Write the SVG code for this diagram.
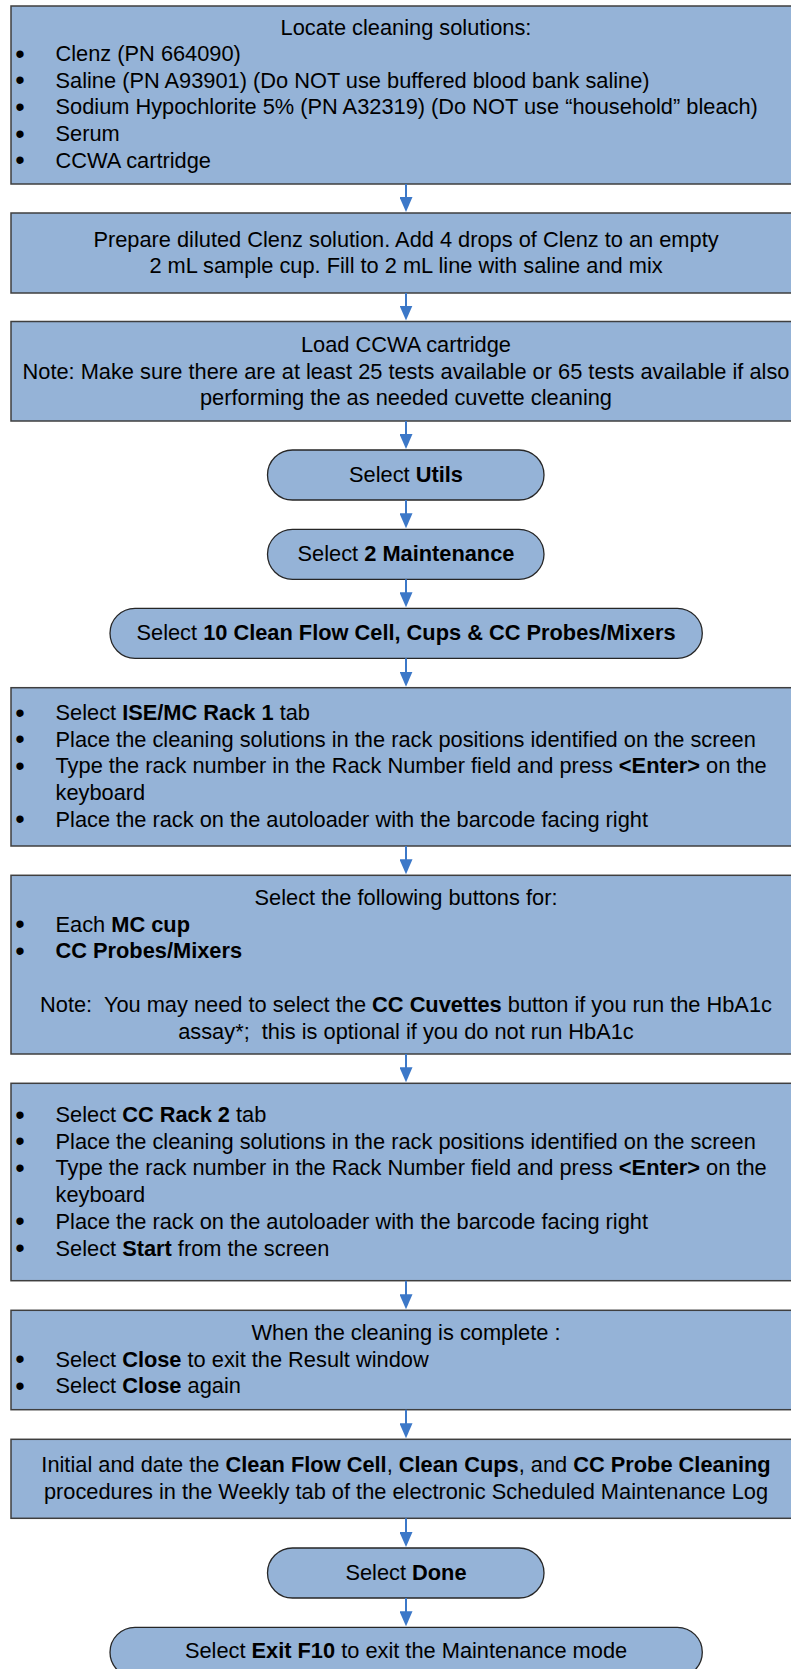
<svg xmlns="http://www.w3.org/2000/svg" width="791" height="1669" viewBox="0 0 791 1669">
<style>
  .box { fill: #95B3D7; stroke: #3F3F3F; stroke-width: 1.5; }
  .pill { fill: #95B3D7; stroke: #262626; stroke-width: 1.3; }
  text { font-family: "Liberation Sans", Arial, sans-serif; font-size: 21.8px; fill: #000; }
  .c { text-anchor: middle; }
  .b { font-weight: bold; }
  .bu { font-size: 27px; }
  .conn { stroke: #3C78C8; stroke-width: 2; fill: none; }
</style>
<defs>
  <marker id="ah" viewBox="0 0 15 13" refX="1" refY="6.5" markerWidth="15" markerHeight="13" markerUnits="userSpaceOnUse" orient="auto">
    <path d="M0,0 L15,6.5 L0,13 z" fill="#3C78C8"/>
  </marker>
</defs>
<rect width="791" height="1669" fill="#FFFFFF"/>

<g id="n1">
  <rect class="box" x="11" y="6" width="800" height="178"/>
  <text class="c" x="406" y="34.5">Locate cleaning solutions:</text>
  <text class="bu" x="15.3" y="62.5">•</text><text x="55.5" y="61">Clenz (PN 664090)</text>
  <text class="bu" x="15.3" y="89.2">•</text><text x="55.5" y="87.7">Saline (PN A93901) (Do NOT use buffered blood bank saline)</text>
  <text class="bu" x="15.3" y="115.9">•</text><text x="55.5" y="114.4">Sodium Hypochlorite 5% (PN A32319) (Do NOT use “household” bleach)</text>
  <text class="bu" x="15.3" y="142.6">•</text><text x="55.5" y="141.1">Serum</text>
  <text class="bu" x="15.3" y="169.3">•</text><text x="55.5" y="167.8">CCWA cartridge</text>
</g>

<g id="n2">
  <rect class="box" x="11" y="213" width="800" height="80"/>
  <text class="c" x="406" y="246.7">Prepare diluted Clenz solution. Add 4 drops of Clenz to an empty</text>
  <text class="c" x="406" y="273.4">2 mL sample cup. Fill to 2 mL line with saline and mix</text>
</g>

<g id="n3">
  <rect class="box" x="11" y="321.5" width="800" height="99.5"/>
  <text class="c" x="406" y="352">Load CCWA cartridge</text>
  <text class="c" x="406" y="378.7">Note: Make sure there are at least 25 tests available or 65 tests available if also</text>
  <text class="c" x="406" y="405.4">performing the as needed cuvette cleaning</text>
</g>

<g id="n4">
  <rect class="pill" x="267.5" y="450" width="276.5" height="50" rx="25" ry="25"/>
  <text class="c" x="406" y="481.7">Select <tspan class="b">Utils</tspan></text>
</g>

<g id="n5">
  <rect class="pill" x="267.5" y="529.3" width="276.5" height="50" rx="25" ry="25"/>
  <text class="c" x="406" y="561">Select <tspan class="b">2 Maintenance</tspan></text>
</g>

<g id="n6">
  <rect class="pill" x="110" y="608.3" width="592.3" height="50" rx="25" ry="25"/>
  <text class="c" x="406" y="640">Select <tspan class="b">10 Clean Flow Cell, Cups &amp; CC Probes/Mixers</tspan></text>
</g>

<g id="n7">
  <rect class="box" x="11" y="687.7" width="800" height="158.3"/>
  <text class="bu" x="15.3" y="721.5">•</text><text x="55.5" y="720">Select <tspan class="b">ISE/MC Rack 1</tspan> tab</text>
  <text class="bu" x="15.3" y="748.2">•</text><text x="55.5" y="746.7">Place the cleaning solutions in the rack positions identified on the screen</text>
  <text class="bu" x="15.3" y="774.9">•</text><text x="55.5" y="773.4">Type the rack number in the Rack Number field and press <tspan class="b">&lt;Enter&gt;</tspan> on the</text>
  <text x="55.5" y="800.1">keyboard</text>
  <text class="bu" x="15.3" y="828.3">•</text><text x="55.5" y="826.8">Place the rack on the autoloader with the barcode facing right</text>
</g>

<g id="n8">
  <rect class="box" x="11" y="875.3" width="800" height="178.7"/>
  <text class="c" x="406" y="905">Select the following buttons for:</text>
  <text class="bu" x="15.3" y="933.2">•</text><text x="55.5" y="931.7">Each <tspan class="b">MC cup</tspan></text>
  <text class="bu" x="15.3" y="959.9">•</text><text x="55.5" y="958.4" class="b">CC Probes/Mixers</text>
  <text class="c" x="406" y="1011.8" xml:space="preserve">Note:  You may need to select the <tspan class="b">CC Cuvettes</tspan> button if you run the HbA1c</text>
  <text class="c" x="406" y="1038.5" xml:space="preserve">assay*;  this is optional if you do not run HbA1c</text>
</g>

<g id="n9">
  <rect class="box" x="11" y="1083.3" width="800" height="197.4"/>
  <text class="bu" x="15.3" y="1123.5">•</text><text x="55.5" y="1122">Select <tspan class="b">CC Rack 2</tspan> tab</text>
  <text class="bu" x="15.3" y="1150.2">•</text><text x="55.5" y="1148.7">Place the cleaning solutions in the rack positions identified on the screen</text>
  <text class="bu" x="15.3" y="1176.9">•</text><text x="55.5" y="1175.4">Type the rack number in the Rack Number field and press <tspan class="b">&lt;Enter&gt;</tspan> on the</text>
  <text x="55.5" y="1202.1">keyboard</text>
  <text class="bu" x="15.3" y="1230.3">•</text><text x="55.5" y="1228.8">Place the rack on the autoloader with the barcode facing right</text>
  <text class="bu" x="15.3" y="1257">•</text><text x="55.5" y="1255.5">Select <tspan class="b">Start</tspan> from the screen</text>
</g>

<g id="n10">
  <rect class="box" x="11" y="1310.3" width="800" height="99.4"/>
  <text class="c" x="406" y="1340">When the cleaning is complete :</text>
  <text class="bu" x="15.3" y="1368.2">•</text><text x="55.5" y="1366.7">Select <tspan class="b">Close</tspan> to exit the Result window</text>
  <text class="bu" x="15.3" y="1394.9">•</text><text x="55.5" y="1393.4">Select <tspan class="b">Close</tspan> again</text>
</g>

<g id="n11">
  <rect class="box" x="11" y="1439.3" width="800" height="79"/>
  <text class="c" x="406" y="1472.3">Initial and date the <tspan class="b">Clean Flow Cell</tspan>, <tspan class="b">Clean Cups</tspan>, and <tspan class="b">CC Probe Cleaning</tspan></text>
  <text class="c" x="406" y="1499">procedures in the Weekly tab of the electronic Scheduled Maintenance Log</text>
</g>

<g id="n12">
  <rect class="pill" x="267.5" y="1548" width="276.5" height="50" rx="25" ry="25"/>
  <text class="c" x="406" y="1579.5">Select <tspan class="b">Done</tspan></text>
</g>

<g id="n13">
  <rect class="pill" x="110" y="1627.3" width="592.3" height="50" rx="25" ry="25"/>
  <text class="c" x="406" y="1658.3">Select <tspan class="b">Exit F10</tspan> to exit the Maintenance mode</text>
</g>

<g id="connectors">
  <path class="conn" marker-end="url(#ah)" d="M406,184 V198"/>
  <path class="conn" marker-end="url(#ah)" d="M406,293 V306.5"/>
  <path class="conn" marker-end="url(#ah)" d="M406,421 V435"/>
  <path class="conn" marker-end="url(#ah)" d="M406,500 V514.3"/>
  <path class="conn" marker-end="url(#ah)" d="M406,579.3 V593.3"/>
  <path class="conn" marker-end="url(#ah)" d="M406,658.3 V672.7"/>
  <path class="conn" marker-end="url(#ah)" d="M406,846 V860.3"/>
  <path class="conn" marker-end="url(#ah)" d="M406,1054 V1068.3"/>
  <path class="conn" marker-end="url(#ah)" d="M406,1280.7 V1295.3"/>
  <path class="conn" marker-end="url(#ah)" d="M406,1409.7 V1424.3"/>
  <path class="conn" marker-end="url(#ah)" d="M406,1518.3 V1533"/>
  <path class="conn" marker-end="url(#ah)" d="M406,1598 V1612.3"/>
</g>
</svg>
